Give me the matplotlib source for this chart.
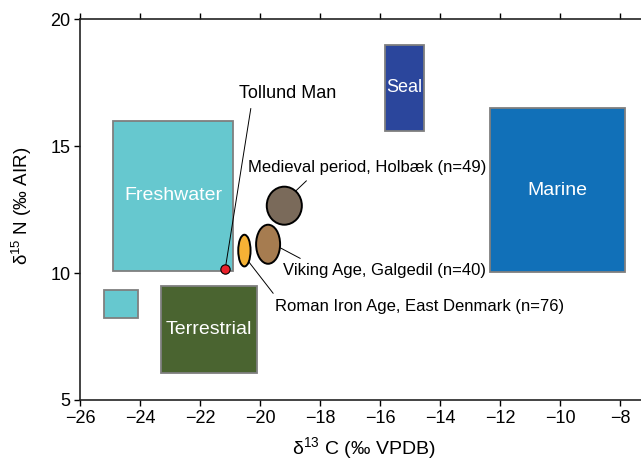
import matplotlib.pyplot as plt
import numpy as np
from matplotlib.patches import Rectangle, Ellipse

plt.rcParams["font.family"] = ["Liberation Sans", "DejaVu Sans"]
plt.rcParams["mathtext.fontset"] = "custom"
plt.rcParams["mathtext.rm"] = "Liberation Sans"

# food-web source boxes: (x0, x1, y0, y1)
box_names  = ["Freshwater", "", "Terrestrial", "Seal", "Marine"]
box_x0     = [-24.9, -25.2, -23.3, -15.85, -12.35]
box_x1     = [-20.9, -24.05, -20.1, -14.55, -7.85]
box_y0     = [10.1, 8.25, 6.05, 15.6, 10.05]
box_y1     = [16.0, 9.35, 9.5, 19.0, 16.5]
box_colors = ["#66c8cf", "#66c8cf", "#4a6430", "#2b469c", "#1170b8"]

# human population means with spread (ellipse width/height)
pop_names  = ["Medieval period, Holbæk (n=49)",
              "Viking Age, Galgedil (n=40)",
              "Roman Iron Age, East Denmark (n=76)"]
pop_c13    = [-19.19, -19.73, -20.52]
pop_n15    = [12.66, 11.14, 10.89]
pop_w      = [1.17, 0.80, 0.41]
pop_h      = [1.50, 1.54, 1.25]
pop_colors = ["#7a6a5a", "#a67c50", "#f6b235"]

tollund_c13 = -21.16
tollund_n15 = 10.16

fig = plt.figure(figsize=(6.41, 4.61), dpi=100)
ax = fig.add_axes([80 / 641, 61 / 461, 561 / 641, 380.5 / 461])

for name, x0, x1, y0, y1, col in zip(box_names, box_x0, box_x1, box_y0, box_y1, box_colors):
    ax.add_patch(Rectangle((x0, y0), x1 - x0, y1 - y0, facecolor=col,
                           edgecolor="#7f7f7f", linewidth=1.3, zorder=2))
    if name:
        ax.text((x0 + x1) / 2, (y0 + y1) / 2, name, color="white",
                fontsize=13 if name == "Seal" else 14,
                ha="center", va="center", zorder=3)

for x, y, w, h, col in zip(pop_c13, pop_n15, pop_w, pop_h, pop_colors):
    ax.add_patch(Ellipse((x, y), w, h, facecolor=col, edgecolor="black",
                         linewidth=1.4, zorder=4))

ax.scatter([tollund_c13], [tollund_n15], s=45, color="#e8202a",
           edgecolor="black", linewidth=0.8, zorder=6)


def edge_point(i, angle):
    a = np.deg2rad(angle)
    return (pop_c13[i] + pop_w[i] / 2 * np.cos(a),
            pop_n15[i] + pop_h[i] / 2 * np.sin(a))


line = dict(arrowstyle="-", color="black", linewidth=0.7, shrinkA=3, shrinkB=0)

ax.annotate("Tollund Man", xy=(tollund_c13, tollund_n15), xytext=(-19.07, 17.1),
            ha="center", va="center", fontsize=13,
            arrowprops=dict(line, relpos=(0.13, 0.0)), zorder=5)
ax.annotate(pop_names[0], xy=edge_point(0, 50), xytext=(-20.4, 14.16),
            ha="left", va="center", fontsize=12,
            arrowprops=dict(line, relpos=(0.27, 0.0)))
ax.annotate(pop_names[1], xy=edge_point(1, -10), xytext=(-19.24, 10.1),
            ha="left", va="center", fontsize=12,
            arrowprops=dict(line, relpos=(0.13, 1.0)))
ax.annotate(pop_names[2], xy=edge_point(2, -45), xytext=(-19.5, 8.67),
            ha="left", va="center", fontsize=12,
            arrowprops=dict(line, relpos=(0.01, 1.0)))

ax.set_xlim(-26, -7.3)
ax.set_ylim(5, 20)
ax.set_xticks(np.arange(-26, -7, 2))
ax.set_yticks([5, 10, 15, 20])
ax.set_xticklabels([f"\u2212{abs(v)}" for v in range(-26, -7, 2)])

ax.spines["right"].set_visible(False)
for s in ["left", "bottom", "top"]:
    ax.spines[s].set_linewidth(1.2)
    ax.spines[s].set_color("#222222")
ax.tick_params(axis="both", direction="out", length=4, width=1.0,
               labelsize=13, pad=3)
ax.tick_params(axis="x", top=True)

ax.set_xlabel(r"$\mathregular{\delta^{13}}$ C (‰ VPDB)", fontsize=14)
ax.set_ylabel(r"$\mathregular{\delta^{15}}$ N (‰ AIR)", fontsize=13.5)
ax.xaxis.set_label_coords(0.506, -0.093)
ax.yaxis.set_label_coords(-0.082, 0.51)

fig.savefig("out.png", dpi=100)
